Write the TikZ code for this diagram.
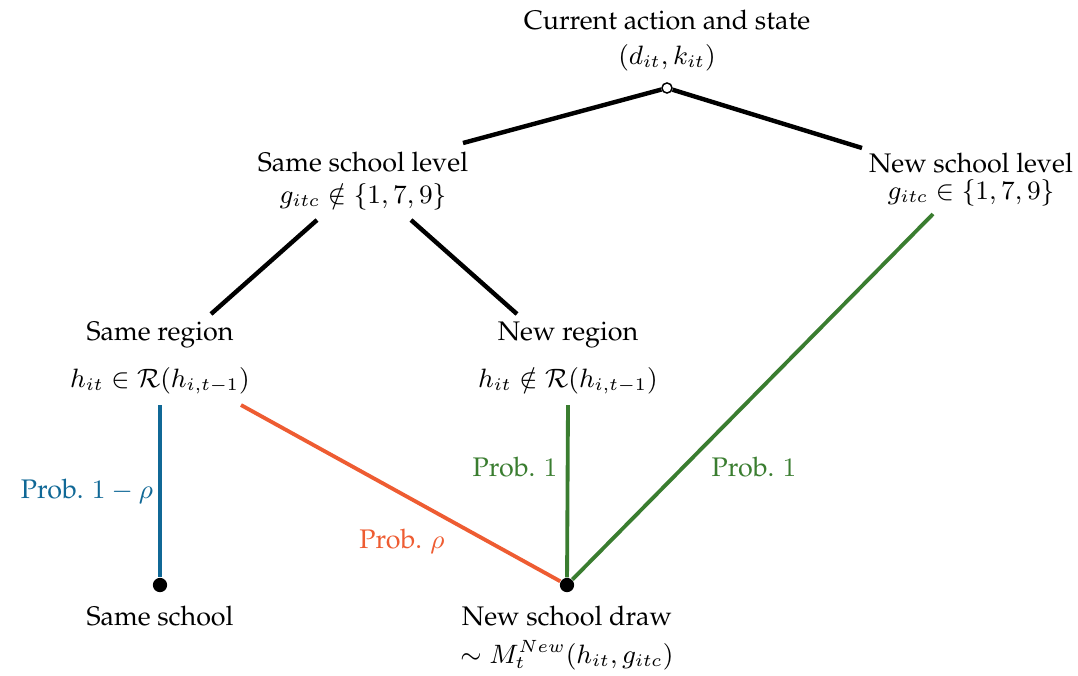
\documentclass[tikz,border=0pt]{standalone}
\usepackage[T1]{fontenc}
\usepackage{palatino}
\definecolor{probblue}{RGB}{16,104,150}
\definecolor{proborange}{RGB}{238,92,50}
\definecolor{probgreen}{RGB}{58,125,48}
\tikzset{
	every node/.style={font=\fontsize{9.1pt}{11pt}\selectfont, inner sep=1pt},
	branch/.style={line width=1.5pt},
	probline/.style={line width=1.3pt},
	opendot/.style={shape=circle, draw=black, fill=white, inner sep=0pt, minimum size=0.12cm, line width=0.5pt},
	fulldot/.style={shape=circle, fill=black, inner sep=0pt, minimum size=0.17cm},
}
\begin{document}
\begin{tikzpicture}[x=0.0119cm, y=-0.0119cm]
	\useasboundingbox (0,0) rectangle (1078,675);

	\node                                (root-t) at (667,20)  {Current action and state};
	\node                                (root-m) at (667,58)  {$(d_{it},k_{it})$};
	\node[opendot]                       (root)   at (667,88)  {};

	\node                                (ssl-t)  at (363,162) {Same school level};
	\node                                (ssl-m)  at (363,197) {$g_{itc}\notin\{1,7,9\}$};
	\node                                (nsl-t)  at (971,163) {New school level};
	\node                                (nsl-m)  at (971,193) {$g_{itc}\in\{1,7,9\}$};

	\node                                (sr-t)   at (160,335) {Same region};
	\node                                (sr-m)   at (160,381) {$h_{it}\in\mathcal{R}(h_{i,t-1})$};
	\node                                (nr-t)   at (568,335) {New region};
	\node                                (nr-m)   at (568,381) {$h_{it}\notin\mathcal{R}(h_{i,t-1})$};

	\node[fulldot]                       (ss)     at (160,585) {};
	\node[fulldot]                       (nsd)    at (567,585) {};
	\node                                (ss-t)   at (160,616) {Same school};
	\node                                (nsd-t)  at (567,616) {New school draw};
	\node                                (nsd-m)  at (567,655) {$\sim M_t^{New}(h_{it},g_{itc})$};

	\coordinate (ssl-in)  at (463,143);
	\coordinate (nsl-in)  at (862,148);
	\coordinate (ssl-l)   at (317,220);
	\coordinate (ssl-r)   at (411,220);
	\coordinate (sr-in)   at (211,314);
	\coordinate (nr-in)   at (517,314);
	\coordinate (sr-out)  at (160,405);
	\coordinate (sr-diag) at (241,405);
	\coordinate (nr-out)  at (568,405);
	\coordinate (nsl-out) at (933,214);

	\path [-, branch]                     (root)    edge (ssl-in);
	\path [-, branch]                     (root)    edge (nsl-in);
	\path [-, branch]                     (ssl-l)   edge (sr-in);
	\path [-, branch]                     (ssl-r)   edge (nr-in);
	\path [-, probline, probblue]         (sr-out)  edge (ss);
	\path [-, probline, proborange]       (sr-diag) edge (nsd);
	\path [-, probline, probgreen]        (nr-out)  edge (nsd);
	\path [-, probline, probgreen]        (nsl-out) edge (nsd);

	\node[text=probblue]                 (p-blue)   at (87,491)  {Prob. $1-\rho$};
	\node[text=proborange]               (p-orange) at (402,541) {Prob. $\rho$};
	\node[text=probgreen]                (p-green1) at (515,467) {Prob. $1$};
	\node[text=probgreen]                (p-green2) at (754,467) {Prob. $1$};
\end{tikzpicture}
\end{document}
